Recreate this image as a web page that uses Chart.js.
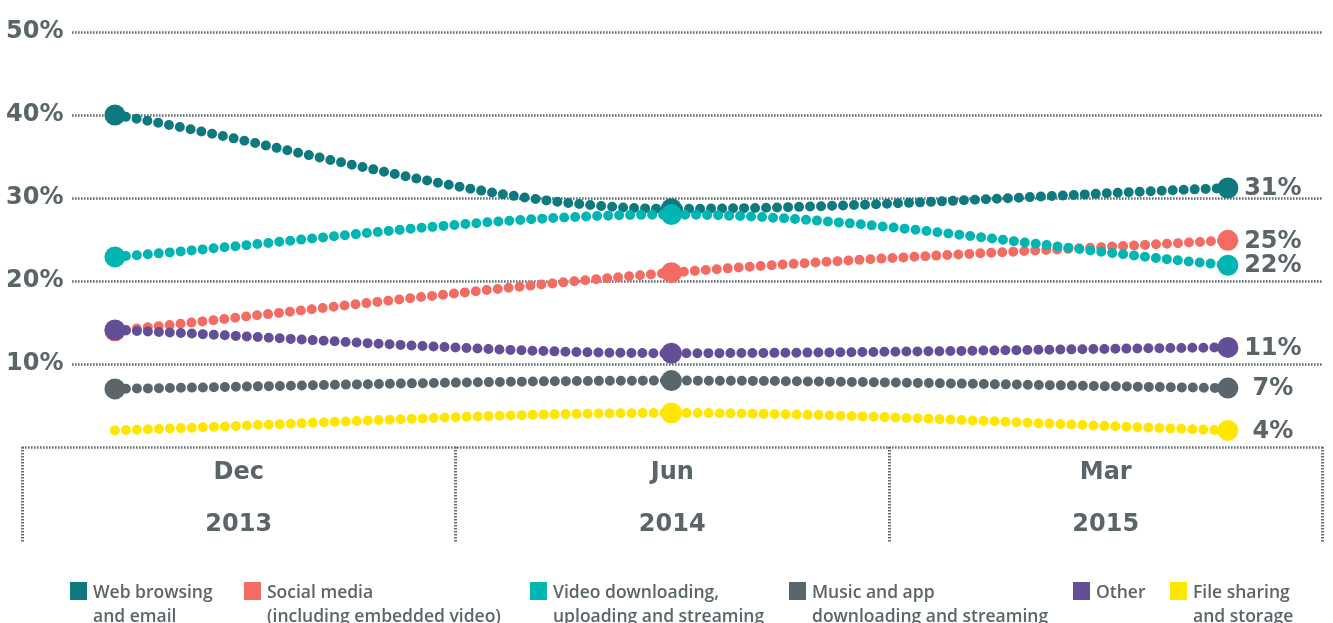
<!DOCTYPE html>
<html>
<head>
<meta charset="utf-8">
<script src="https://cdn.jsdelivr.net/npm/chart.js@4"></script>
<style>
  body { margin: 0; background: #fff; overflow: hidden; }
  #wrap { position: relative; width: 1333px; height: 623px; }
  #box { position: absolute; left: 0; top: 0; width: 1333px; height: 560px; }
  #legend { position: absolute; left: 0; top: 0; width: 1333px; height: 623px; pointer-events: none; }
  .item { position: absolute; top: 579px; font-family: "Open Sans", sans-serif; font-weight: 600;
          font-size: 17.5px; line-height: 24px; color: #5b6569; white-space: nowrap; }
  .sw { position: absolute; left: 0; top: 3px; width: 17px; height: 18px; }
  .txt { position: absolute; left: 23px; top: 0; }
</style>
</head>
<body>
<div id="wrap">
  <div id="box"><canvas id="myChart"></canvas></div>
  <div id="legend"></div>
</div>
<script>
// x positions of the three survey dates, and the two-line labels under them
var xIndex = [0, 1, 2];
var periods = [["Dec", "2013"], ["Jun", "2014"], ["Mar", "2015"]];

var yTicks = [10, 20, 30, 40, 50];

var web = [40, 28.7, 31.2];
var social = [14, 21, 24.9];
var video = [22.9, 28, 21.9];
var music = [7, 8, 7.1];
var other = [14.1, 11.3, 12];
var files = [2, 4.1, 2];

var endLabels = ["31%", "25%", "22%", "7%", "11%", "4%"];

var names = [
  ["Web browsing", "and email"],
  ["Social media", "(including embedded video)"],
  ["Video downloading,", "uploading and streaming"],
  ["Music and app", "downloading and streaming"],
  ["Other"],
  ["File sharing", "and storage"]
];

var colors = ["#0e7a80", "#f26c64", "#00b5b2", "#5a666b", "#634f96", "#ffe600"];
var textGrey = "#5b6569";
var legendLeft = [70, 244, 530, 789, 1073, 1170];
var labelFont = "'DejaVu Sans'";

function pts(vals) {
  return vals.map(function (v, i) { return { x: xIndex[i], y: v }; });
}

function series(i, vals, order, radius) {
  return {
    label: names[i].join(" "),
    data: pts(vals),
    borderColor: colors[i],
    backgroundColor: colors[i],
    pointBackgroundColor: colors[i],
    pointBorderWidth: 0,
    pointRadius: radius || 10.5,
    borderWidth: 10,
    borderDash: [0, 11],
    borderCapStyle: "round",
    cubicInterpolationMode: "monotone",
    order: order
  };
}

// dotted horizontal gridlines, drawn from the y scale
var gridPlugin = {
  id: "dotgrid",
  beforeDatasetsDraw: function (chart) {
    var ctx = chart.ctx, y = chart.scales.y, area = chart.chartArea;
    ctx.save();
    ctx.strokeStyle = "#646d72";
    ctx.lineWidth = 2.5;
    ctx.setLineDash([1.6, 1.4]);
    [0].concat(yTicks).forEach(function (v) {
      var py = Math.round(y.getPixelForValue(v)) + 0.5;
      ctx.beginPath();
      ctx.moveTo(v === 0 ? area.left : 72, py);
      ctx.lineTo(area.right, py);
      ctx.stroke();
    });
    ctx.restore();
  }
};

// value labels after the last point of each line
var endLabelPlugin = {
  id: "endlabels",
  afterDatasetsDraw: function (chart) {
    var ctx = chart.ctx;
    ctx.save();
    ctx.font = "bold 24px " + labelFont;
    ctx.fillStyle = textGrey;
    ctx.textAlign = "center";
    ctx.textBaseline = "middle";
    chart.data.datasets.forEach(function (ds, i) {
      var el = chart.getDatasetMeta(i).data[xIndex.length - 1];
      ctx.fillText(endLabels[i], el.x + 45, el.y + 1);
    });
    ctx.restore();
  }
};

var data = {
  datasets: [
    series(0, web, 4),
    series(1, social, 2),
    series(2, video, 1),
    series(3, music, 3),
    series(4, other, 0),
    series(5, files, 5, [0, 10.5, 10.5])
  ]
};

var config = {
  type: "line",
  data: data,
  options: {
    responsive: true,
    maintainAspectRatio: false,
    animation: false,
    layout: { padding: { left: 22, right: 8, top: 32, bottom: 18 } },
    plugins: {
      legend: { display: false },
      tooltip: { enabled: false }
    },
    scales: {
      x: {
        type: "linear",
        display: false,
        min: -0.167,
        max: 2.170
      },
      x2: {
        type: "category",
        position: "bottom",
        labels: periods,
        offset: true,
        bounds: "ticks",
        grid: {
          offset: true,
          drawOnChartArea: false,
          drawTicks: true,
          tickLength: 95,
          tickWidth: 3,
          tickColor: "#646d72",
          tickBorderDash: [1.6, 1.4]
        },
        border: { display: false },
        ticks: {
          padding: -95,
          color: textGrey,
          font: { family: labelFont, size: 24, weight: "bold", lineHeight: 2.17 },
          maxRotation: 0,
          autoSkip: false
        },
        afterFit: function (s) { s.height = 95; }
      },
      y: {
        min: 0,
        max: 50,
        afterBuildTicks: function (s) {
          s.ticks = yTicks.map(function (v) { return { value: v }; });
        },
        grid: { display: false, drawTicks: false },
        border: { display: false },
        ticks: {
          mirror: true,
          padding: -16,
          color: textGrey,
          font: { family: labelFont, size: 24, weight: "bold" },
          callback: function (v) { return v + "%"; }
        },
        afterFit: function (s) { s.width = 0; }
      }
    }
  },
  plugins: [gridPlugin, endLabelPlugin]
};

var myChart = document.getElementById("myChart").getContext("2d");
var chart1 = new Chart(myChart, config);

// two-line legend along the bottom
var legend = document.getElementById("legend");
names.forEach(function (n, i) {
  var item = document.createElement("div");
  item.className = "item";
  item.style.left = legendLeft[i] + "px";
  item.innerHTML = '<span class="sw" style="background:' + colors[i] + '"></span>' +
    '<span class="txt">' + n.join("<br>") + "</span>";
  legend.appendChild(item);
});
</script>
</body>
</html>
